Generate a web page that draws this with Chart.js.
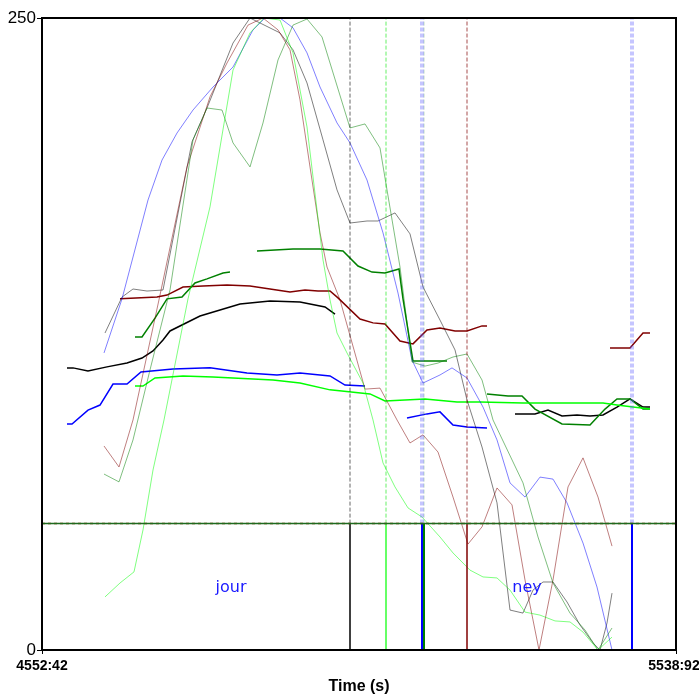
<!DOCTYPE html>
<html>
<head>
<meta charset="utf-8">
<script src="https://cdn.jsdelivr.net/npm/chart.js@4/dist/chart.umd.min.js"></script>
<style>
html, body { margin: 0; padding: 0; background: #fff; }
</style>
</head>
<body>
<canvas id="chart" width="699" height="696"></canvas>
<script>
// time axis (s) and level values
const timeMin = 0;
const timeMax = 634;
const timeLabels = ["4552:42", "5538:92"];
const levelTicks = [0, 250];

// full-opacity tracks
const blackT = [25, 31, 46, 65, 85, 100, 111, 121, 128, 158, 198, 228, 258, 283, 293];
const blackV = [111.6, 111.6, 110.4, 112.0, 113.5, 115.5, 118.3, 122.6, 126.2, 132.1, 136.9, 138.1, 137.7, 135.7, 132.9];
const black2T = [473, 493, 506, 520, 535, 548, 561, 575, 588, 601, 608];
const black2V = [93.4, 93.4, 94.9, 92.6, 93.0, 92.6, 93.0, 96.1, 99.3, 96.1, 96.1];

const maroonT = [78, 115, 125, 141, 161, 185, 208, 228, 248, 263, 276, 288, 296, 318, 331, 343, 358, 371, 385, 398, 413, 425, 440, 445];
const maroonV = [138.9, 139.6, 140.4, 143.6, 144.0, 144.4, 144.0, 142.8, 141.6, 142.4, 142.0, 142.0, 139.3, 130.9, 129.4, 129.0, 122.2, 121.1, 126.6, 127.4, 126.2, 126.2, 128.2, 128.2];
const maroon2T = [568, 588, 601, 608];
const maroon2V = [119.5, 119.5, 125.4, 125.4];

const blueT = [25, 30, 46, 58, 71, 85, 99, 131, 168, 205, 235, 258, 278, 288, 303, 323];
const blueV = [89.4, 89.4, 94.9, 96.9, 105.2, 105.2, 110.0, 111.2, 111.6, 109.6, 108.8, 109.6, 108.8, 108.4, 104.8, 104.4];
const blue2T = [365, 385, 398, 411, 425, 445];
const blue2V = [91.8, 93.4, 94.2, 89.0, 88.2, 87.8];

const limeT = [93, 101, 113, 141, 171, 231, 258, 288, 328, 343, 383, 415, 438, 481, 538, 561, 575, 591, 608];
const limeV = [104.4, 104.4, 107.6, 108.4, 108.0, 106.8, 105.6, 102.9, 101.3, 98.5, 99.3, 98.1, 98.1, 97.7, 97.7, 97.7, 96.9, 96.1, 95.3];

const greenT = [93, 100, 113, 125, 140, 153, 165, 181, 188];
const greenV = [123.8, 123.8, 131.3, 138.9, 139.6, 145.2, 146.8, 149.1, 149.5];
const green2T = [215, 251, 278, 301, 316, 330, 343, 357, 361, 371, 405];
const green2V = [157.8, 158.6, 158.6, 157.8, 151.9, 149.5, 149.1, 150.7, 138.9, 114.3, 114.3];
const green3T = [445, 466, 480, 493, 520, 548, 563, 575, 588, 601, 608];
const green3V = [101.3, 100.5, 100.5, 95.3, 89.4, 89.0, 95.3, 99.3, 99.3, 95.3, 95.3];

// faded tracks
const grayT = [63, 80, 91, 105, 121, 150, 165, 191, 208, 238, 251, 265, 281, 295, 308, 325, 336, 353, 368, 381, 398, 413, 425, 440, 455, 468, 481, 491, 501, 511, 525, 538, 551, 558, 565, 570];
const grayV = [125.4, 139.6, 142.8, 142.0, 142.4, 201.0, 214.4, 240.1, 250, 244.1, 237.4, 224.3, 201.8, 182.0, 168.9, 169.7, 169.7, 172.9, 164.6, 143.6, 130.5, 118.7, 98.9, 80.3, 58.2, 15.8, 14.6, 23.7, 26.9, 26.9, 19.0, 9.9, 2.8, 0, 10.7, 22.5];

const rosyT = [62, 77, 91, 118, 145, 168, 185, 206, 221, 236, 248, 258, 268, 278, 285, 298, 323, 338, 355, 368, 381, 396, 411, 426, 440, 455, 470, 483, 497, 511, 526, 541, 556, 570];
const rosyV = [80.7, 72.4, 91.0, 140.4, 191.1, 218.8, 232.2, 247.2, 250, 245.3, 237.4, 217.6, 191.1, 165.0, 151.5, 138.5, 103.2, 103.6, 91.0, 81.9, 85.1, 78.3, 60.5, 41.9, 48.7, 64.1, 57.4, 27.7, 0, 27.7, 64.5, 76.0, 60.5, 41.1];

const skyT = [62, 80, 106, 120, 135, 151, 171, 191, 211, 223, 238, 251, 265, 278, 295, 308, 325, 341, 356, 370, 381, 398, 410, 425, 441, 455, 468, 483, 498, 511, 525, 541, 555, 570];
const skyV = [117.5, 138.9, 178.0, 193.8, 204.5, 213.6, 222.7, 230.6, 245.3, 250, 250, 246.1, 236.2, 222.7, 208.5, 200.6, 185.9, 165.0, 141.2, 114.7, 105.6, 108.8, 111.6, 107.6, 96.1, 83.1, 66.1, 60.5, 68.4, 67.6, 58.2, 42.3, 24.9, 0];

const sageT = [62, 77, 91, 108, 128, 151, 165, 180, 191, 208, 221, 236, 251, 265, 280, 308, 323, 338, 345, 358, 362, 370, 383, 396, 411, 425, 440, 451, 481, 496, 511, 528, 543, 556, 570];
const sageV = [69.6, 66.5, 83.1, 110.8, 142.4, 201.8, 214.4, 213.6, 200.6, 191.1, 208.5, 233.4, 247.2, 249.6, 242.5, 206.5, 208.1, 198.6, 182.0, 151.5, 138.9, 113.9, 112.3, 113.5, 115.9, 117.1, 106.8, 91.0, 66.1, 44.7, 26.5, 14.6, 7.9, 0, 8.7];

const mintT = [63, 78, 92, 101, 111, 122, 146, 168, 191, 208, 222, 238, 251, 265, 281, 288, 295, 305, 321, 331, 341, 353, 366, 380, 398, 411, 428, 441, 455, 468, 483, 498, 513, 528, 541, 556, 570];
const mintV = [21.0, 26.5, 30.9, 47.5, 71.2, 91.0, 138.9, 175.3, 229.4, 244.1, 250, 249.2, 236.2, 206.9, 154.3, 138.5, 125.4, 117.5, 105.6, 91.0, 74.0, 64.5, 56.2, 52.6, 44.7, 38.4, 31.6, 28.9, 28.5, 23.7, 15.0, 13.8, 11.5, 11.1, 7.1, 0, 5.1];

// threshold and events
const thresholdV = 50;
const eventT = [308, 344, 380, 382, 425, 590];
const noteText = ["jour", "ney"];
const noteT = [189, 485];
const noteV = [24.5, 24.5];

// styles
const eventLowColor = ["#000000", "#66ff66", "#0000ff", "#008000", "#800000", "#0000ff"];
const eventLowWidth = [1.5, 2, 2, 2, 1.5, 2];
const eventHighColor = ["rgba(0,0,0,0.6)", "rgba(0,230,0,0.6)", "rgba(90,90,255,0.35)", "rgba(0,128,0,0.25)", "rgba(128,0,0,0.35)", "rgba(90,90,255,0.35)"];
const eventHighWidth = [1, 1, 4, 1, 2, 4];

function pts(t, v) {
    return t.map((x, i) => ({ x: x, y: v[i] }));
}

function line(t, v, color, width, dash) {
    return {
        data: pts(t, v),
        showLine: true,
        borderColor: color,
        borderWidth: width,
        borderDash: dash || [],
        pointRadius: 0,
        fill: false,
        tension: 0
    };
}

const datasets = [];

// horizontal threshold
datasets.push(line([timeMin, timeMax], [thresholdV, thresholdV], "#1f6a1f", 1.5));
datasets.push(line([timeMin, timeMax], [thresholdV, thresholdV], "#8a3a00", 1.5, [3, 3]));

// event lines: dashed above threshold, solid below
eventT.forEach((t, i) => {
    datasets.push(line([t, t], [thresholdV, levelTicks[1]], eventHighColor[i], eventHighWidth[i], [4, 2]));
    datasets.push(line([t, t], [0, thresholdV], eventLowColor[i], eventLowWidth[i]));
});

// faded tracks
datasets.push(line(mintT, mintV, "rgba(0,255,0,0.5)", 1));
datasets.push(line(sageT, sageV, "rgba(0,128,0,0.5)", 1));
datasets.push(line(rosyT, rosyV, "rgba(128,0,0,0.5)", 1));
datasets.push(line(skyT, skyV, "rgba(0,0,255,0.5)", 1));
datasets.push(line(grayT, grayV, "rgba(0,0,0,0.5)", 1));

// full tracks
datasets.push(line(limeT, limeV, "#00ff00", 1.5));
datasets.push(line(blueT, blueV, "#0000ff", 1.5));
datasets.push(line(blue2T, blue2V, "#0000ff", 1.5));
datasets.push(line(greenT, greenV, "#008000", 1.5));
datasets.push(line(green2T, green2V, "#008000", 1.5));
datasets.push(line(green3T, green3V, "#008000", 1.5));
datasets.push(line(maroonT, maroonV, "#800000", 1.5));
datasets.push(line(maroon2T, maroon2V, "#800000", 1.5));
datasets.push(line(blackT, blackV, "#000000", 1.5));
datasets.push(line(black2T, black2V, "#000000", 1.5));

const framePlugin = {
    id: "frame",
    afterDatasetsDraw(chart) {
        const ctx = chart.ctx;
        const a = chart.chartArea;
        const xs = chart.scales.x;
        const ys = chart.scales.y;

        ctx.save();
        ctx.strokeStyle = "#000";
        ctx.lineWidth = 2;
        ctx.strokeRect(a.left, a.top, a.right - a.left, a.bottom - a.top);

        // notes inside the plot
        ctx.fillStyle = "#1a1aff";
        ctx.font = "16px 'DejaVu Sans', sans-serif";
        ctx.textAlign = "center";
        ctx.textBaseline = "middle";
        noteText.forEach((txt, i) => {
            ctx.fillText(txt, xs.getPixelForValue(noteT[i]), ys.getPixelForValue(noteV[i]));
        });

        // end labels of the time axis
        ctx.fillStyle = "#000";
        ctx.font = "bold 14px 'Liberation Sans', Arial, sans-serif";
        ctx.fillText(timeLabels[0], xs.getPixelForValue(timeMin), a.bottom + 16);
        ctx.fillText(timeLabels[1], xs.getPixelForValue(timeMax) - 2, a.bottom + 16);
        ctx.restore();
    }
};

new Chart(document.getElementById("chart"), {
    type: "scatter",
    data: { datasets: datasets },
    plugins: [framePlugin],
    options: {
        responsive: false,
        animation: false,
        layout: { padding: { left: 0, right: 23, top: 18, bottom: 0 } },
        plugins: {
            legend: { display: false },
            tooltip: { enabled: false }
        },
        scales: {
            x: {
                type: "linear",
                min: timeMin,
                max: timeMax,
                afterFit(scale) { scale.height = 46; },
                afterBuildTicks(scale) {
                    scale.ticks = [{ value: timeMin }, { value: timeMax }];
                },
                ticks: { display: false },
                grid: { drawOnChartArea: false, tickLength: 4, color: "#000" },
                border: { display: true, color: "#000", width: 2 },
                title: {
                    display: true,
                    text: "Time (s)",
                    color: "#000",
                    font: { family: "'Liberation Sans', Arial, sans-serif", size: 16, weight: "bold" },
                    padding: { top: 0, bottom: 0 }
                }
            },
            y: {
                min: levelTicks[0],
                max: levelTicks[1],
                afterFit(scale) { scale.width = 42; },
                afterBuildTicks(scale) {
                    scale.ticks = levelTicks.map(v => ({ value: v }));
                },
                ticks: {
                    color: "#000",
                    padding: 1,
                    font: { family: "'Liberation Sans', Arial, sans-serif", size: 17 }
                },
                grid: { drawOnChartArea: false, tickLength: 5, color: "#000" },
                border: { display: true, color: "#000", width: 2 }
            }
        }
    }
});
</script>
</body>
</html>
